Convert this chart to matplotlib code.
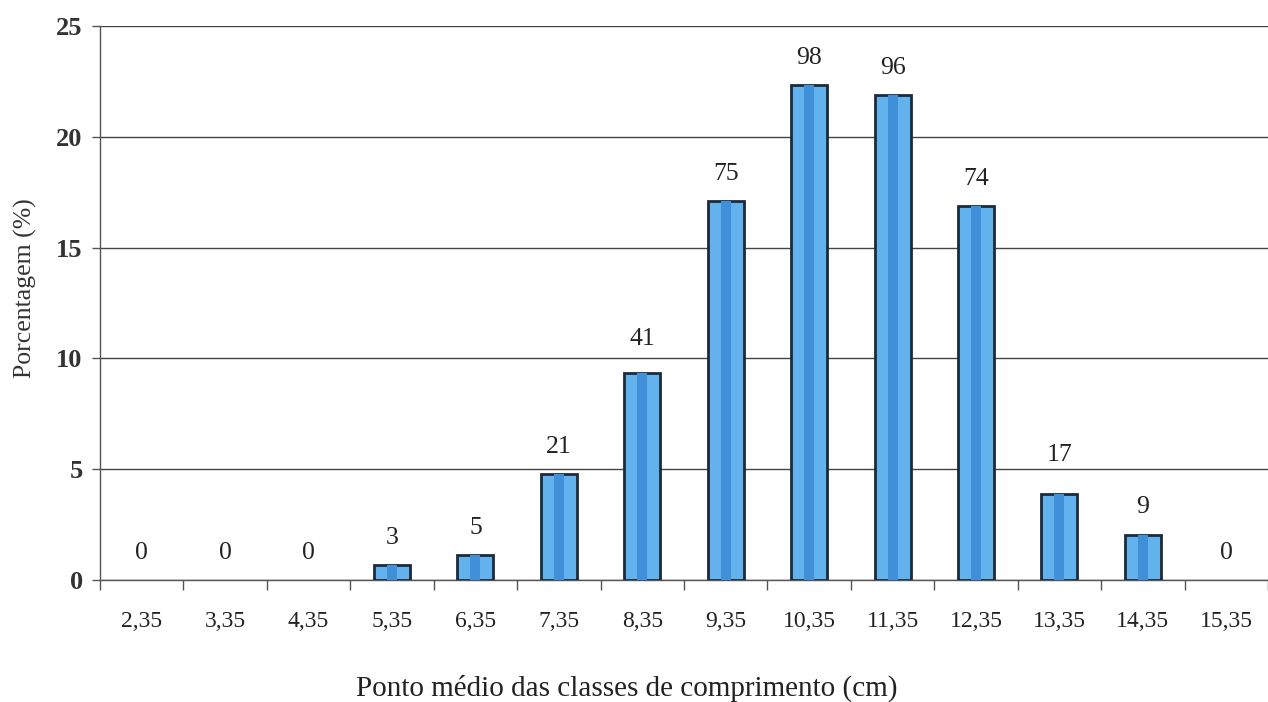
import matplotlib
matplotlib.use("Agg")
import matplotlib.pyplot as plt
import numpy as np

# Class midpoints (cm) and number of individuals per class
classes = ["2,35", "3,35", "4,35", "5,35", "6,35", "7,35", "8,35",
           "9,35", "10,35", "11,35", "12,35", "13,35", "14,35", "15,35"]
counts = [0, 0, 0, 3, 5, 21, 41, 75, 98, 96, 74, 17, 9, 0]
y_ticks = [0, 5, 10, 15, 20, 25]

total = sum(counts)
percent = [c / total * 100 for c in counts]

plt.rcParams["font.family"] = ["Liberation Serif", "DejaVu Serif"]

W, H = 1268, 702
fig = plt.figure(figsize=(W / 100, H / 100), dpi=100)
ax = fig.add_axes([100 / W, 1 - 580 / H, 1168 / W, 554 / H])

x = np.arange(len(classes))
width = 0.43
edge_w = [2.0 if c > 0 else 0 for c in counts]
ax.bar(x, percent, width=width, color="#62b2ee", edgecolor="#1d2a3a",
       linewidth=edge_w, zorder=3)
# darker centre stripe for a cylindrical shading effect
ax.bar(x, percent, width=width * 0.28, color="#3f90d8", linewidth=0, zorder=4)

# value labels; a couple are lifted clear of the gridlines
extra_lift = {6: 5, 11: 9}
for i, (xi, p, c) in enumerate(zip(x, percent, counts)):
    ax.annotate(str(c), (xi, p), xytext=(0, 19.5 + extra_lift.get(i, 0)),
                textcoords="offset points", ha="center", va="center",
                fontsize=18.5, color="#222222")

ax.set_xlim(-0.5, len(classes) - 0.5)
ax.set_ylim(0, 25)
ax.set_yticks(y_ticks)
ax.set_yticklabels([str(t) for t in y_ticks], fontsize=19, fontweight="bold",
                   color="#333333")
ax.yaxis.grid(True, color="#444444", linewidth=1.0, zorder=0)
ax.set_axisbelow(True)

ax.set_xticks(x)
ax.set_xticklabels(classes, fontsize=17, color="#222222")
ax.set_xticks(np.arange(-0.5, len(classes), 1.0), minor=True)
ax.tick_params(axis="x", which="major", length=0, pad=22)
ax.tick_params(axis="x", which="minor", length=7, width=1, color="#555555",
               direction="out")
ax.tick_params(axis="y", length=6, width=1, color="#555555", pad=6.5)

for side in ("top", "right"):
    ax.spines[side].set_visible(False)
for side in ("left", "bottom"):
    ax.spines[side].set_color("#555555")
    ax.spines[side].set_linewidth(1.0)

ax.set_xlabel("Ponto médio das classes de comprimento (cm)", fontsize=21,
              color="#222222", va="center")
ax.xaxis.set_label_coords((627 - 100) / 1168, (580 - 688) / 554)
ax.set_ylabel("Porcentagem (%)", fontsize=18.5, color="#333333", va="center")
ax.yaxis.set_label_coords((25 - 100) / 1168, (580 - 288) / 554)

fig.savefig("out.png", dpi=100, facecolor="white")
